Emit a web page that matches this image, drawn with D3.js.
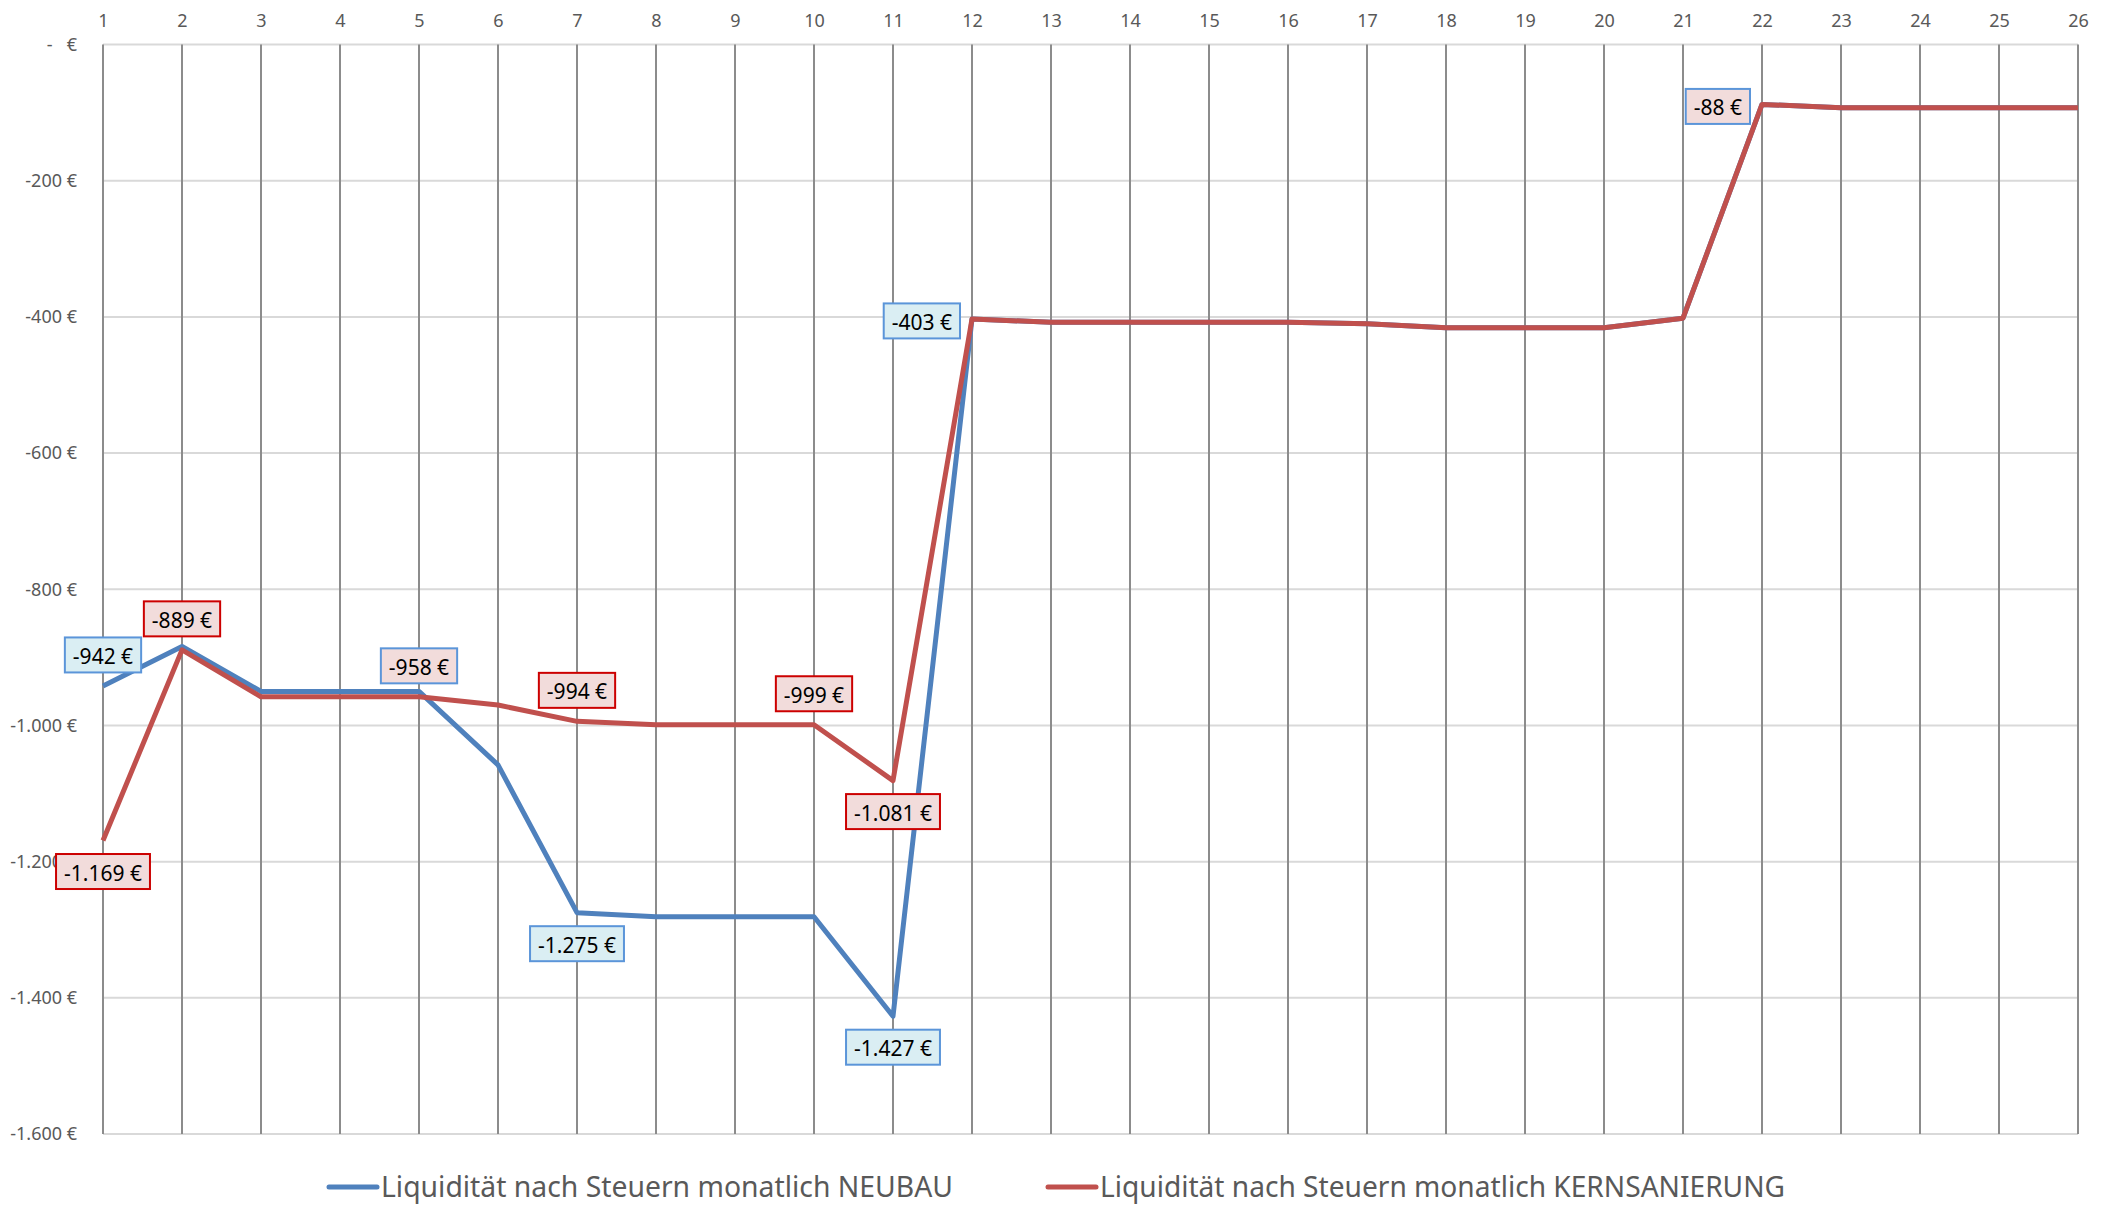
<!DOCTYPE html>
<html>
<head>
<meta charset="utf-8">
<script src="https://cdn.jsdelivr.net/npm/d3@7"></script>
<style>
  body { margin: 0; background: #fff; }
  text { font-family: "Noto Sans", "Open Sans", sans-serif; }
</style>
</head>
<body>
<script>
// months 1..26
var months = d3.range(1, 27);

// Liquidität nach Steuern monatlich NEUBAU
var neubau = [-942, -884, -950, -950, -950, -1058, -1275, -1281, -1281, -1281, -1427, -403,
              -408, -408, -408, -408, -410, -416, -416, -416, -402, -88, -93, -93, -93, -93];

// Liquidität nach Steuern monatlich KERNSANIERUNG
var kernsanierung = [-1169, -889, -958, -958, -958, -970, -994, -999, -999, -999, -1081, -403,
                     -408, -408, -408, -408, -410, -416, -416, -416, -402, -88, -93, -93, -93, -93];

var seriesNames = ['Liquidität nach Steuern monatlich NEUBAU', 'Liquidität nach Steuern monatlich KERNSANIERUNG'];
var yTicks = [0, -200, -400, -600, -800, -1000, -1200, -1400, -1600];

// which points carry a data label, and on which side
var dataLabels = [
  { series: 0, month: 1, side: 'above' },
  { series: 1, month: 2, side: 'above' },
  { series: 1, month: 1, side: 'below' },
  { series: 1, month: 5, side: 'above', look: 'mixed' },
  { series: 1, month: 7, side: 'above' },
  { series: 1, month: 10, side: 'above' },
  { series: 0, month: 7, side: 'below' },
  { series: 1, month: 11, side: 'below' },
  { series: 0, month: 11, side: 'below' },
  { series: 0, month: 12, side: 'left' },
  { series: 1, month: 22, side: 'left', look: 'mixed' }
];

var width = 2116, height = 1205;
var colors = ['#4f81bd', '#c0504d'];
var boxFill = ['#daeef3', '#f2dcdb'];
var boxStroke = ['#5b95d9', '#cc0000'];

var de = d3.formatLocale({ decimal: ',', thousands: '.', grouping: [3], currency: ['', ' €'], minus: '-' });
var fmt = de.format('$,.0f');
function euro(v) { return v === 0 ? '-\u00a0\u00a0\u00a0€' : fmt(v); }

var svg = d3.select('body').append('svg').attr('width', width).attr('height', height);
svg.append('rect').attr('width', width).attr('height', height).attr('fill', '#fff');

var x = d3.scaleLinear().domain([1, 26]).range([103, 2078]);
var y = d3.scaleLinear().domain([-1600, 0]).range([1134, 44.5]);

// horizontal gridlines
svg.append('g')
  .selectAll('line')
  .data(yTicks)
  .enter()
  .append('line')
  .attr('x1', x(1)).attr('x2', x(26))
  .attr('y1', function (d) { return y(d); })
  .attr('y2', function (d) { return y(d); })
  .attr('stroke', '#d9d9d9')
  .attr('stroke-width', 2);

// vertical gridlines
svg.append('g')
  .selectAll('line')
  .data(months)
  .enter()
  .append('line')
  .attr('x1', function (d) { return x(d); })
  .attr('x2', function (d) { return x(d); })
  .attr('y1', y(0)).attr('y2', y(-1600))
  .attr('stroke', '#8c8c8c')
  .attr('stroke-width', 2);

// y axis labels
var yAxis = d3.axisLeft(y).tickValues(yTicks).tickSize(0).tickPadding(26).tickFormat(euro);
var gy = svg.append('g').attr('transform', 'translate(' + x(1) + ',0)').call(yAxis);
gy.select('.domain').remove();
gy.selectAll('text').attr('fill', '#595959').style('font-size', '18px');

// x axis labels on top
var xAxis = d3.axisTop(x).tickValues(months).tickSize(0).tickPadding(18).tickFormat(d3.format('d'));
var gx = svg.append('g').attr('transform', 'translate(0,' + y(0) + ')').call(xAxis);
gx.select('.domain').remove();
gx.selectAll('text').attr('fill', '#595959').style('font-size', '18px');

// lines
var line = d3.line()
  .x(function (d, i) { return x(months[i]); })
  .y(function (d) { return y(d); });

[neubau, kernsanierung].forEach(function (vals, s) {
  svg.append('path')
    .datum(vals)
    .attr('d', line)
    .attr('fill', 'none')
    .attr('stroke', colors[s])
    .attr('stroke-width', 5)
    .attr('stroke-linejoin', 'round');
});

// data labels
var allSeries = [neubau, kernsanierung];
dataLabels.forEach(function (lab) {
  var v = allSeries[lab.series][lab.month - 1];
  var px = x(lab.month), py = y(v);
  var g = svg.append('g');
  var rect = g.append('rect');
  var t = g.append('text')
    .attr('text-anchor', 'middle')
    .attr('dominant-baseline', 'central')
    .attr('fill', '#000')
    .style('font-size', '21px')
    .text(fmt(v));
  var w = t.node().getComputedTextLength() + 16, h = 35;
  var cx = px, cy = py;
  if (lab.side === 'above') cy = py - 31;
  if (lab.side === 'below') cy = py + 31;
  if (lab.side === 'left') { cx = px - 12 - w / 2; cy = py + 2; }
  t.attr('x', cx).attr('y', cy + 1);
  var fill = boxFill[lab.series], stroke = boxStroke[lab.series];
  if (lab.look === 'mixed') { fill = boxFill[1]; stroke = boxStroke[0]; }
  rect.attr('x', cx - w / 2).attr('y', cy - h / 2)
    .attr('width', w).attr('height', h)
    .attr('fill', fill).attr('stroke', stroke).attr('stroke-width', 2);
});

// legend
var legendItems = [
  { x: 329, len: 572 },
  { x: 1048, len: 685 }
];
legendItems.forEach(function (it, s) {
  var g = svg.append('g').attr('transform', 'translate(' + it.x + ',1187)');
  g.append('line').attr('x1', 0).attr('x2', 48)
    .attr('stroke', colors[s]).attr('stroke-width', 5).attr('stroke-linecap', 'round');
  g.append('text').attr('x', 52).attr('y', 10)
    .attr('fill', '#595959')
    .style('font-size', '29px')
    .attr('textLength', it.len)
    .attr('lengthAdjust', 'spacingAndGlyphs')
    .text(seriesNames[s]);
});
</script>
</body>
</html>
